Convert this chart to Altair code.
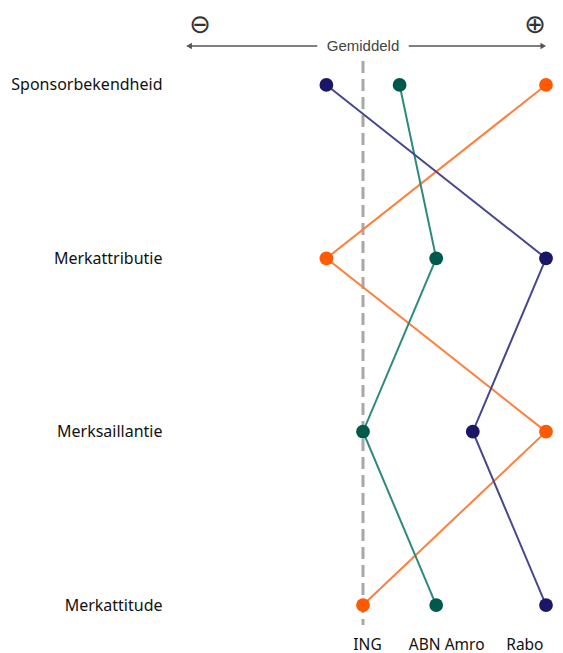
import altair as alt
import pandas as pd

# categories (rows, top to bottom)
rows = ["Sponsorbekendheid", "Merkattributie", "Merksaillantie", "Merkattitude"]
# series and their scores relative to the average (0 = Gemiddeld)
series = ["ING", "ABN Amro", "Rabo"]
ing_vals = [100, -20, 100, 0]
abn_vals = [20, 40, 0, 40]
rabo_vals = [-20, 100, 60, 100]
# bottom tick labels and their positions on the score scale
tick_labels = ["ING", "ABN Amro", "Rabo"]
tick_values = [0, 40, 100]

point_colors = ["#ff5a00", "#005a4c", "#1a1766"]
line_colors = ["#ff7f3c", "#2e8a7c", "#47478f"]

records = []
for s, vals in zip(series, [ing_vals, abn_vals, rabo_vals]):
    for i, (r, v) in enumerate(zip(rows, vals)):
        records.append({"bank": s, "row": r, "idx": i, "score": v})
df = pd.DataFrame(records)

label_expr = "{" + ",".join(f"'{v}':'{l}'" for v, l in zip(tick_values, tick_labels)) + "}[datum.value]"

xscale = alt.Scale(domain=[-100, 100])
yscale = alt.Scale(domain=rows, padding=0.144)

x_enc = alt.X("score:Q", scale=xscale,
              axis=alt.Axis(values=tick_values, labelExpr=label_expr, title=None,
                            grid=False, domain=False, ticks=False, labelPadding=7,
                            labelOffset={"expr": "datum.value == 40 ? 10 : (datum.value == 0 ? 4 : -3)"},
                            labelFont="Noto Sans", labelFontSize=15.5, labelColor="#111"))
y_enc = alt.Y("row:N", scale=yscale, sort=rows,
              axis=alt.Axis(title=None, grid=False, domain=False, ticks=False,
                            labelPadding=18, labelFont="Noto Sans", labelFontSize=16,
                            labelColor="#111", labelAlign="right"))

base = alt.Chart(df)

avg = alt.Chart(pd.DataFrame({"score": [0]})).mark_rule(
    color="#a8a8a8", strokeWidth=3, strokeDash=[12, 6]
).encode(x=alt.X("score:Q", scale=xscale), y=alt.value(1), y2=alt.value(565))

lines = base.mark_line(strokeWidth=2).encode(
    x=x_enc, y=y_enc,
    color=alt.Color("bank:N", scale=alt.Scale(domain=series, range=line_colors), legend=None),
    order="idx:O",
)
points = base.mark_circle(size=190, opacity=1).encode(
    x=x_enc, y=y_enc,
    color=alt.Color("bank:N", scale=alt.Scale(domain=series, range=point_colors), legend=None),
)

# top annotation: arrow with "Gemiddeld"
seg_df = pd.DataFrame({"x1": [-96, 25], "x2": [-25, 99]})
segs = alt.Chart(seg_df).mark_rule(color="#555", strokeWidth=1.3).encode(
    x=alt.X("x1:Q", scale=xscale), x2="x2:Q", y=alt.value(-14)
)
heads_df = pd.DataFrame({"x": [-95, 98.5], "shape": ["triangle-left", "triangle-right"]})
heads = alt.Chart(heads_df).mark_point(filled=True, size=40, color="#555", opacity=1).encode(
    x=alt.X("x:Q", scale=xscale), y=alt.value(-14),
    shape=alt.Shape("shape:N", scale=None)
)
gem = alt.Chart(pd.DataFrame({"x": [0], "t": ["Gemiddeld"]})).mark_text(
    font="Liberation Sans", fontSize=15, color="#444", baseline="middle"
).encode(x=alt.X("x:Q", scale=xscale), y=alt.value(-14), text="t:N")
sym_df = pd.DataFrame({"x": [-89, 94], "t": ["⊖", "⊕"]})
syms = alt.Chart(sym_df).mark_text(
    font="DejaVu Sans", fontSize=26, color="#333", baseline="middle"
).encode(x=alt.X("x:Q", scale=xscale), y=alt.value(-35), text="t:N")

chart = alt.layer(avg, lines, points, segs, heads, gem, syms).resolve_scale(
    color="independent"
).properties(
    width=366, height=570,
    autosize=alt.AutoSizeParams(type="none"),
    padding={"left": 180, "top": 60, "right": 17, "bottom": 23},
).configure(background="white").configure_view(strokeWidth=0, stroke="transparent")

chart.save("out.html", embed_options={"renderer": "svg", "actions": False})
